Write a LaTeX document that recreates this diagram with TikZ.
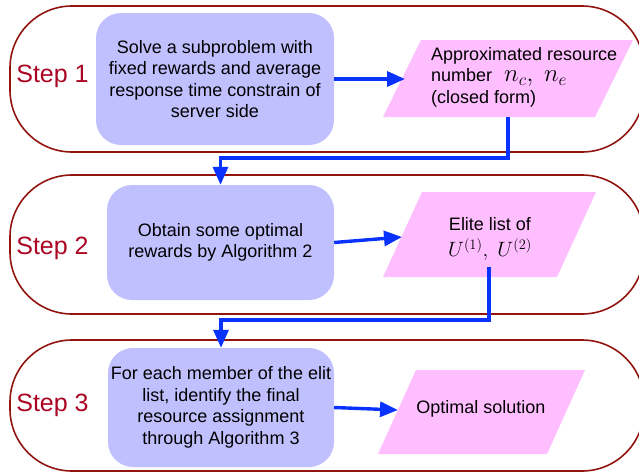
\documentclass[tikz,border=0pt]{standalone}
\usepackage{fontspec}
\setmainfont{Liberation Sans}
\usetikzlibrary{arrows.meta}
\definecolor{stepred}{RGB}{170,5,35}
\definecolor{framered}{RGB}{145,20,15}
\definecolor{lav}{RGB}{192,192,255}
\definecolor{pinkf}{RGB}{255,190,255}
\definecolor{arrblue}{RGB}{10,50,255}
\begin{document}
\begin{tikzpicture}[x=1pt,y=-1pt,
 every node/.style={font=\fontsize{18}{21.5}\selectfont},
 stage/.style={draw=framered,line width=1.6pt,rounded corners=62pt,minimum width=634pt,inner sep=0pt},
 steplabel/.style={text=stepred,font=\fontsize{25}{29}\selectfont},
 proc/.style={fill=lav,rounded corners=25pt,align=center,inner sep=0pt},
 data/.style={fill=pinkf},
 txt/.style={align=center,inner sep=0pt},
 link/.style={draw=arrblue,line width=3.4pt,-{Triangle[length=18pt,width=15pt]}}
]
\useasboundingbox (0,0) rectangle (639,474);
\clip (0,0) rectangle (639,474);
% stage frames
\node[stage,minimum height=146pt] (s1) at (327,79) {};
\node[stage,minimum height=139pt] (s2) at (327,244.5) {};
\node[stage,minimum height=131pt] (s3) at (327,405.5) {};
\node[steplabel] (l1) at (52.5,76) {Step 1};
\node[steplabel] (l2) at (52.5,248.5) {Step 2};
\node[steplabel] (l3) at (52.5,405.5) {Step 3};
% process boxes
\node[proc,minimum width=238pt,minimum height=132pt] (A) at (215,79)
  {Solve a subproblem with\\fixed rewards and average\\response time constrain of\\server side};
\node[proc,minimum width=227pt,minimum height=115pt] (B) at (220.5,242.5)
  {Obtain some optimal\\rewards by Algorithm 2};
\node[proc,minimum width=226pt,minimum height=119pt] (C) at (221,407.5)
  {For each member of the elit\\list, identify the final\\resource assignment\\through Algorithm 3};
% data boxes (parallelograms)
\fill[data] (421,40) -- (633,40) -- (595,117) -- (383,117) -- cycle;
\fill[data] (422,192) -- (596,192) -- (557,277) -- (383,277) -- cycle;
\fill[data] (416,370) -- (585,370) -- (547,454) -- (378,454) -- cycle;
\coordinate (e1) at (405,79);
\coordinate (e2) at (402,237);
\coordinate (e3) at (398,410);
\coordinate (q1) at (508,117);
\coordinate (q2) at (489,267);
\node[inner sep=0pt,align=left,anchor=west] (T1) at (431,77)
  {Approximated resource\\[0pt]number\hspace{12pt}{\fontsize{24}{21}\selectfont$n_c,\ n_e$}\\[0pt](closed form)};
\node[txt] (T2) at (490,239) {Elite list of\\[5pt]{\fontsize{21}{21}\selectfont$U^{(1)},\ U^{(2)}$}};
\node[txt] (T3) at (481,409) {Optimal solution};
% connectors
\draw[link] (A.east) -- (e1);
\draw[link] (B.east) -- (e2);
\draw[link] (C.east) -- (e3);
\draw[link] (q1) -- ++(0,41) -| (B.north);
\draw[link] (q2) -- ++(0,53) -| (C.north);
\end{tikzpicture}
\end{document}
